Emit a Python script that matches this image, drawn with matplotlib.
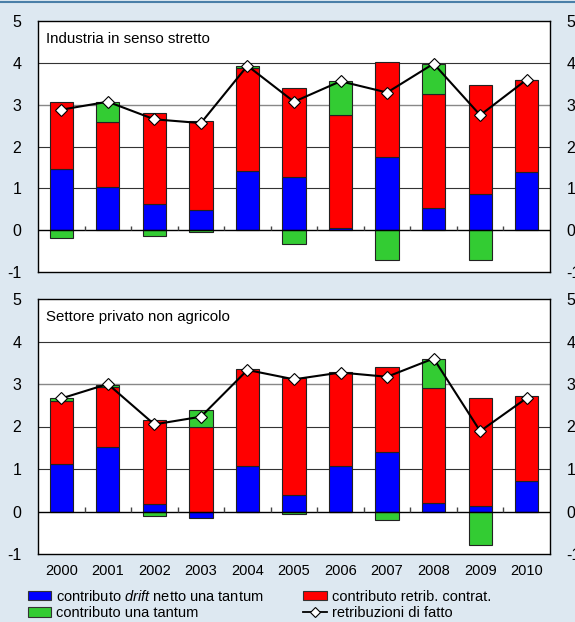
import numpy as np
import matplotlib
matplotlib.use("Agg")
import matplotlib.pyplot as plt
from matplotlib.patches import Patch
from matplotlib.lines import Line2D

plt.rcParams['font.family'] = ['Liberation Sans', 'DejaVu Sans']
plt.rcParams['mathtext.fontset'] = 'custom'
plt.rcParams['mathtext.rm'] = 'Liberation Sans'
plt.rcParams['mathtext.it'] = 'Liberation Sans:italic'
plt.rcParams['axes.unicode_minus'] = False

years = ['2000', '2001', '2002', '2003', '2004', '2005', '2006', '2007', '2008', '2009', '2010']

# Industria in senso stretto
ind_drift = [1.46, 1.04, 0.62, 0.49, 1.42, 1.27, 0.06, 1.74, 0.54, 0.87, 1.39]
ind_contr = [1.60, 1.54, 2.18, 2.12, 2.45, 2.12, 2.70, 2.28, 2.71, 2.60, 2.20]
ind_tantum = [-0.18, 0.48, -0.15, -0.05, 0.06, -0.33, 0.80, -0.71, 0.72, -0.71, 0.0]
ind_fatto = [2.88, 3.07, 2.65, 2.56, 3.93, 3.07, 3.56, 3.29, 3.98, 2.75, 3.60]

# Settore privato non agricolo
priv_drift = [1.11, 1.51, 0.17, -0.16, 1.07, 0.39, 1.07, 1.41, 0.20, 0.14, 0.72]
priv_contr = [1.50, 1.41, 1.99, 1.98, 2.29, 2.76, 2.22, 1.98, 2.71, 2.54, 1.99]
priv_tantum = [0.06, 0.06, -0.10, 0.41, -0.02, -0.06, -0.02, -0.20, 0.67, -0.78, -0.01]
priv_fatto = [2.66, 3.00, 2.05, 2.23, 3.33, 3.11, 3.27, 3.17, 3.60, 1.89, 2.67]

titles = ['Industria in senso stretto', 'Settore privato non agricolo']
labels = ['contributo $\\mathit{drift}$ netto una tantum', 'contributo una tantum',
          'contributo retrib. contrat.', 'retribuzioni di fatto']

BLUE = '#0000ff'
RED = '#ff0000'
GREEN = '#33cc33'
BG = '#dde8f1'

fig = plt.figure(figsize=(5.75, 6.22), dpi=100, facecolor=BG)
W, H = 575, 622
ax1 = fig.add_axes([38 / W, 1 - 272 / H, 512 / W, 251 / H])
ax2 = fig.add_axes([38 / W, 1 - 554 / H, 512 / W, 255 / H])
fig.add_artist(Line2D([0, 1], [1 - 1.5 / H, 1 - 1.5 / H], color='#4a7fa8', lw=1.5))


def panel(ax, title, drift, contr, tantum, fatto, show_x):
    x = np.arange(len(years))
    series = [(drift, BLUE), (contr, RED), (tantum, GREEN)]
    pos = np.zeros(len(years))
    neg = np.zeros(len(years))
    for vals, col in series:
        v = np.array(vals)
        base = np.where(v >= 0, pos, neg)
        ax.bar(x, v, 0.5, bottom=base, color=col, edgecolor='#222222', linewidth=0.8, zorder=3)
        pos = pos + np.where(v >= 0, v, 0)
        neg = neg + np.where(v < 0, v, 0)
    ax.plot(x, fatto, color='black', lw=1.5, marker='D', markersize=6,
            markerfacecolor='white', markeredgecolor='black', markeredgewidth=0.8, zorder=5)
    for g in [1, 2, 4]:
        ax.axhline(g, color='#333333', lw=0.8, zorder=1)
    ax.axhline(3, color='#888888', lw=1.0, zorder=1)
    ax.axhline(0, color='black', lw=1.0, zorder=4)
    ax.vlines(x[:-1] + 0.5, 0, 0.1, color='#444444', lw=1.0, zorder=4)
    ax.set_xlim(-0.5, len(years) - 0.5)
    ax.set_ylim(-1, 5)
    ax.set_yticks(range(-1, 6))
    ax.tick_params(axis='y', length=0, pad=12, labelsize=11.5, right=True, labelright=True)
    for sp in ax.spines.values():
        sp.set_linewidth(1.0)
    if show_x:
        ax.set_xticks(x)
        ax.set_xticklabels(years)
        ax.tick_params(axis='x', length=0, pad=7, labelsize=10.5)
    else:
        ax.set_xticks([])
    ax.text(0.016, 0.93, title, transform=ax.transAxes, fontsize=10.8, va='center', ha='left')


panel(ax1, titles[0], ind_drift, ind_contr, ind_tantum, ind_fatto, False)
panel(ax2, titles[1], priv_drift, priv_contr, priv_tantum, priv_fatto, True)

handles = [Patch(facecolor=BLUE, edgecolor='#333333', lw=0.8),
           Patch(facecolor=GREEN, edgecolor='#333333', lw=0.8),
           Patch(facecolor=RED, edgecolor='#333333', lw=0.8),
           Line2D([], [], color='black', lw=1.3, marker='D', markersize=5,
                  markerfacecolor='white', markeredgecolor='black', markeredgewidth=0.8)]
leg_labels = [labels[0], labels[1], labels[2], labels[3]]
fig.legend(handles, leg_labels, ncol=2, frameon=False, fontsize=10.5,
           loc='upper left', bbox_to_anchor=(28 / W, 1 - 589 / H),
           handlelength=1.6, handleheight=0.6, handletextpad=0.35,
           columnspacing=2.7, labelspacing=0.15, borderaxespad=0, borderpad=0)

fig.savefig('out.png', dpi=100, facecolor=BG)
